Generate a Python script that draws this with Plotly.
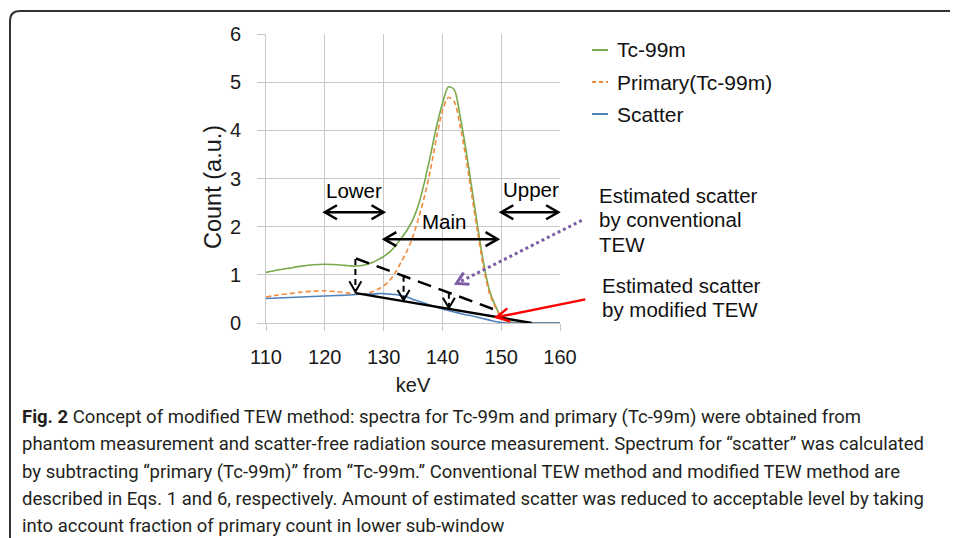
import math
import plotly.graph_objects as go

# ---------------- data ----------------
energy_kev = [110, 112, 114, 116, 118, 120, 122, 124, 125, 126, 127, 128, 129, 130,
              131, 132, 133, 134, 135, 136, 137, 138, 139, 140, 141, 142, 143, 144,
              145, 146, 147, 148, 149, 150, 151, 152, 154, 156, 158, 160]
tc99m = [1.05, 1.10, 1.14, 1.18, 1.21, 1.22, 1.21, 1.19, 1.18, 1.19, 1.21, 1.25, 1.31, 1.38,
         1.47, 1.60, 1.76, 1.93, 2.15, 2.48, 2.95, 3.50, 4.08, 4.55, 4.90, 4.85, 4.30, 3.60,
         2.80, 2.00, 1.25, 0.68, 0.36, 0.13, 0.04, 0.01, 0.00, 0.00, 0.00, 0.00]
primary = [0.54, 0.58, 0.61, 0.64, 0.66, 0.67, 0.65, 0.62, 0.60, 0.60, 0.61, 0.65, 0.70, 0.77,
           0.88, 1.05, 1.27, 1.50, 1.80, 2.20, 2.65, 3.20, 3.85, 4.40, 4.68, 4.60, 4.10, 3.43,
           2.65, 1.88, 1.15, 0.62, 0.33, 0.12, 0.04, 0.01, 0.00, 0.00, 0.00, 0.00]
scatter = [0.51, 0.52, 0.53, 0.54, 0.55, 0.56, 0.57, 0.58, 0.59, 0.60, 0.60, 0.60, 0.61, 0.61,
           0.60, 0.59, 0.57, 0.54, 0.49, 0.45, 0.41, 0.37, 0.33, 0.29, 0.26, 0.23, 0.20, 0.17,
           0.15, 0.12, 0.09, 0.06, 0.03, 0.01, 0.00, 0.00, 0.00, 0.00, 0.00, 0.00]
series_names = ["Tc-99m", "Primary(Tc-99m)", "Scatter"]

x_ticks = [110, 120, 130, 140, 150, 160]
y_ticks = [0, 1, 2, 3, 4, 5, 6]

# estimated scatter lines
conv_tew_kev = [125.3, 149.5]
conv_tew_count = [1.34, 0.25]
mod_tew_kev = [125.3, 155.2]
mod_tew_count = [0.62, 0.0]

# energy windows: (start keV, end keV, level, label, label keV, label level)
windows = [
    (120.0, 130.0, 2.30, "Lower", 124.9, 2.76),
    (130.1, 149.4, 1.74, "Main", 140.2, 2.10),
    (150.0, 159.7, 2.30, "Upper", 155.0, 2.78),
]
# vertical correction arrows: (keV, from count, to count)
drops = [(125.2, 1.33, 0.65), (133.4, 0.98, 0.47), (141.1, 0.63, 0.31)]
# pointer arrows: (tail keV, tail count, tip keV, tip count)
conv_pointer = (163.7, 2.13, 142.4, 0.82)
mod_pointer = (164.3, 0.49, 149.2, 0.12)

# ---------------- layout geometry ----------------
OFF = 8                      # page body margin of the html page
W, H = 958 - OFF, 538 - OFF
ML, MT = 266 - OFF, 34 - OFF
PW, PH = 294, 289
MR, MB = W - ML - PW, H - MT - PH
X0, X1, Y0, Y1 = 110, 160, 0, 6

AXIS_FONT = "Liberation Sans, Arial, sans-serif"
CAP_FONT = "Roboto, sans-serif"
GREEN, ORANGE, BLUE = "#79a94b", "#f08a3c", "#4f81bd"
PURPLE, RED = "#7d5ea6", "#ff0000"
TXT = "#111111"


def paper(x, y):
    return (x - X0) / (X1 - X0), (y - Y0) / (Y1 - Y0)


def pix(px, py):
    """screen pixel (in the 958x538 window) -> paper coordinates"""
    px, py = px - OFF, py - OFF
    return (px - ML) / PW, (H - MB - py) / PH


shapes = []
annotations = []


def add_arrow(x0, y0, x1, y1, color, width, dash="solid", both=False,
              head=13, ang=28):
    p0, p1 = paper(x0, y0), paper(x1, y1)
    shapes.append(dict(type="line", xref="paper", yref="paper",
                       x0=p0[0], y0=p0[1], x1=p1[0], y1=p1[1],
                       line=dict(color=color, width=width, dash=dash)))
    ends = [(p1, p0)] + ([(p0, p1)] if both else [])
    for tip, tail in ends:
        dx = (tail[0] - tip[0]) * PW
        dy = (tail[1] - tip[1]) * PH
        n = math.hypot(dx, dy)
        ux, uy = dx / n, dy / n
        pts = []
        for s in (1, -1):
            a = math.radians(ang) * s
            rx = ux * math.cos(a) - uy * math.sin(a)
            ry = ux * math.sin(a) + uy * math.cos(a)
            pts.append((tip[0] + rx * head / PW, tip[1] + ry * head / PH))
        path = "M {:.5f},{:.5f} L {:.5f},{:.5f} L {:.5f},{:.5f}".format(
            pts[0][0], pts[0][1], tip[0], tip[1], pts[1][0], pts[1][1])
        shapes.append(dict(type="path", xref="paper", yref="paper", path=path,
                           line=dict(color=color, width=width)))


def add_text(px, py, text, size, anchor="left", angle=0, family=AXIS_FONT, color=TXT):
    x, y = pix(px, py)
    annotations.append(dict(x=x, y=y, xref="paper", yref="paper", text=text,
                            showarrow=False, xanchor=anchor, yanchor="middle",
                            textangle=angle,
                            font=dict(family=family, size=size, color=color)))


fig = go.Figure()
fig.add_trace(go.Scatter(x=energy_kev, y=tc99m, name=series_names[0], mode="lines",
                         line=dict(color=GREEN, width=1.6, shape="spline", smoothing=0.8)))
fig.add_trace(go.Scatter(x=energy_kev, y=primary, name=series_names[1], mode="lines",
                         line=dict(color=ORANGE, width=1.6, dash="5px,3px",
                                   shape="spline", smoothing=0.8)))
fig.add_trace(go.Scatter(x=energy_kev, y=scatter, name=series_names[2], mode="lines",
                         line=dict(color=BLUE, width=1.6, shape="spline", smoothing=0.8)))
fig.add_trace(go.Scatter(x=conv_tew_kev, y=conv_tew_count, mode="lines", showlegend=False,
                         line=dict(color="black", width=2.5, dash="14px,8px")))
fig.add_trace(go.Scatter(x=mod_tew_kev, y=mod_tew_count, mode="lines", showlegend=False,
                         line=dict(color="black", width=2.5)))

# window arrows and labels
for xs, xe, lev, lab, lx, ly in windows:
    add_arrow(xs, lev, xe, lev, "black", 2.5, both=True, head=14, ang=30)
    annotations.append(dict(x=lx, y=ly, xref="x", yref="y", text=lab, showarrow=False,
                            font=dict(family=AXIS_FONT, size=20.5, color="black")))
# vertical dashed arrows
for xk, ya, yb in drops:
    add_arrow(xk, ya, xk, yb, "black", 2, dash="6px,4px", head=12, ang=30)
# pointers
add_arrow(*conv_pointer, PURPLE, 3, dash="dot", head=13, ang=30)
add_arrow(*mod_pointer, RED, 2.5, head=14, ang=28)

# pointer texts
for i, t in enumerate(["Estimated scatter", "by conventional", "TEW"]):
    add_text(597, 195 + 24.5 * i, t, 20.5)
for i, t in enumerate(["Estimated scatter", "by modified TEW"]):
    add_text(600, 285 + 24.5 * i, t, 20.5)

# legend (manual, to match short sample lines and spacing)
legend_styles = [(GREEN, "solid"), (ORANGE, "4px,3px"), (BLUE, "solid")]
for i, (name, (col, dsh)) in enumerate(zip(series_names, legend_styles)):
    ly = 50 + 32 * i
    a, b = pix(592, ly), pix(608, ly)
    shapes.append(dict(type="line", xref="paper", yref="paper", x0=a[0], y0=a[1],
                       x1=b[0], y1=b[1], line=dict(color=col, width=2, dash=dsh)))
    add_text(615, ly, name, 21)

# y axis title
add_text(213, 187, "Count (a.u.)", 23.5, anchor="center", angle=-90, color="#1a1a1a")

# frame with rounded top-left corner
f = [pix(10, 545), pix(10, 21), pix(10, 11), pix(20, 11), pix(965, 11)]
shapes.append(dict(type="path", xref="paper", yref="paper",
                   path="M {},{} L {},{} Q {},{} {},{} L {},{}".format(
                       f[0][0], f[0][1], f[1][0], f[1][1], f[2][0], f[2][1],
                       f[3][0], f[3][1], f[4][0], f[4][1]),
                   line=dict(color="#333333", width=2)))

# caption
caption = [
    "<b>Fig. 2</b> Concept of modified TEW method: spectra for Tc-99m and primary (Tc-99m) were obtained from",
    "phantom measurement and scatter-free radiation source measurement. Spectrum for \u201cscatter\u201d was calculated",
    "by subtracting \u201cprimary (Tc-99m)\u201d from \u201cTc-99m.\u201d Conventional TEW method and modified TEW method are",
    "described in Eqs. 1 and 6, respectively. Amount of estimated scatter was reduced to acceptable level by taking",
    "into account fraction of primary count in lower sub-window",
]
for i, line in enumerate(caption):
    add_text(20, 417 + 27.3 * i, line, 18.5, family=CAP_FONT, color="#231f20")

fig.update_layout(
    width=W, height=H,
    margin=dict(l=ML, r=MR, t=MT, b=MB, pad=0),
    paper_bgcolor="white", plot_bgcolor="white",
    showlegend=False,
    shapes=shapes, annotations=annotations,
    font=dict(family=AXIS_FONT, size=20, color="#1a1a1a"),
)
fig.update_xaxes(range=[X0, X1], tickvals=x_ticks, showgrid=True, gridcolor="#c8c8c8",
                 gridwidth=1, zeroline=False, showline=True, linecolor="#c8c8c8",
                 ticks="outside", ticklen=7, tickcolor="#c8c8c8", ticklabelstandoff=9,
                 title=dict(text="keV", standoff=10, font=dict(size=20)),
                 tickfont=dict(size=20))
fig.update_yaxes(range=[Y0, Y1], tickvals=y_ticks, showgrid=True, gridcolor="#c8c8c8",
                 gridwidth=1, zeroline=False, showline=True, linecolor="#c8c8c8",
                 ticks="outside", ticklen=8, tickcolor="#c8c8c8", ticklabelstandoff=12,
                 tickfont=dict(size=20))

fig.write_html("out.html")
